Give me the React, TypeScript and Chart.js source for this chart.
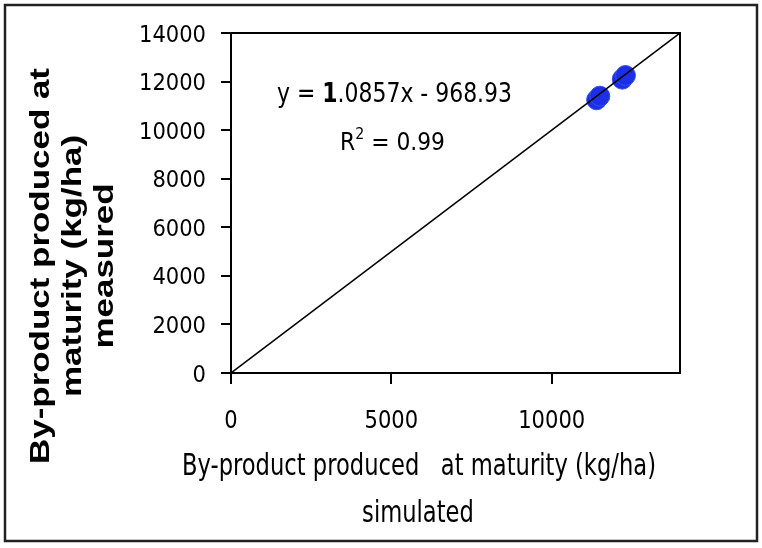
import React, { useEffect, useRef } from "react";
import { Chart, registerables } from "chart.js";

Chart.register(...registerables);

const measuredPoints = [
  { x: 11400, y: 11250 },
  { x: 11500, y: 11400 },
  { x: 12200, y: 12100 },
  { x: 12300, y: 12250 },
];
const oneToOneLine = [
  { x: 0, y: 0 },
  { x: 14000, y: 14000 },
];
const xTicks = [0, 5000, 10000];
const yTicks = [0, 2000, 4000, 6000, 8000, 10000, 12000, 14000];
const yTitleLines = ["By-product produced at", "maturity (kg/ha)", "measured"];
const xTitleLines = ["By-product produced   at maturity (kg/ha)", "simulated"];
const equationText = "y = 1.0857x - 968.93";
const r2Text = "0.99";

const TICK_FONT = "'Liberation Sans Narrow', 'DejaVu Sans Condensed', sans-serif";
const BOLD_FONT = "'Liberation Sans', Arial, sans-serif";

type Part = { t: string; bold?: boolean; mul?: number; dy?: number };

// draw text parts stretched: width fitted to targetW, cap height fitted to capH
function drawParts(
  ctx: any,
  parts: Part[],
  family: string,
  capRatio: number,
  x: number,
  y: number,
  targetW: number | null,
  capH: number,
  align: "left" | "center" | "right",
  sxOverride?: number
) {
  const base = 20;
  const fontFor = (p: Part) => `${p.bold ? "bold " : ""}${base * (p.mul || 1)}px ${family}`;
  let w = 0;
  for (const p of parts) {
    ctx.font = fontFor(p);
    w += ctx.measureText(p.t).width;
  }
  const sy = capH / (capRatio * base);
  const sx = sxOverride ?? (targetW ? targetW / w : sy);
  ctx.save();
  ctx.translate(x, y);
  ctx.scale(sx, sy);
  let cx = align === "center" ? -w / 2 : align === "right" ? -w : 0;
  ctx.textAlign = "left";
  ctx.textBaseline = "alphabetic";
  for (const p of parts) {
    ctx.font = fontFor(p);
    ctx.fillText(p.t, cx, (capRatio * base) / 2 + (p.dy || 0));
    cx += ctx.measureText(p.t).width;
  }
  ctx.restore();
  return sx;
}

const CAP = 0.73;

const decorPlugin = {
  id: "decor",
  afterDraw(chart: any) {
    const ctx = chart.ctx;
    const ca = chart.chartArea;
    ctx.save();
    // plot box
    ctx.strokeStyle = "#000";
    ctx.lineWidth = 2;
    ctx.strokeRect(ca.left, ca.top, ca.right - ca.left, ca.bottom - ca.top);
    // outer border
    ctx.strokeStyle = "#222";
    ctx.lineWidth = 2.5;
    ctx.strokeRect(5, 5, 752, 536);

    ctx.fillStyle = "#000";

    // tick labels (stretched to match the reference proportions)
    ctx.font = `20px ${TICK_FONT}`;
    const digitSx = 67 / ctx.measureText("14000").width;
    const ys = chart.scales.y;
    for (const v of yTicks) {
      drawParts(ctx, [{ t: String(v) }], TICK_FONT, CAP, 206, ys.getPixelForValue(v), null, 17, "right", digitSx);
    }
    const xsScale = chart.scales.x;
    for (const v of xTicks) {
      drawParts(ctx, [{ t: String(v) }], TICK_FONT, CAP, xsScale.getPixelForValue(v), 419, null, 18, "center", digitSx);
    }

    // equation
    drawParts(
      ctx,
      [{ t: "y = " }, { t: "1", bold: true }, { t: equationText.slice(5) }],
      TICK_FONT,
      CAP,
      277,
      92,
      235,
      20,
      "left"
    );
    // R^2
    drawParts(
      ctx,
      [{ t: "R" }, { t: "2", mul: 0.65, dy: -9 }, { t: " = " + r2Text }],
      TICK_FONT,
      CAP,
      340,
      141,
      105,
      18,
      "left"
    );

    // x title
    const sx = drawParts(ctx, [{ t: xTitleLines[0] }], TICK_FONT, CAP, 419, 464, 474, 22, "center");
    drawParts(ctx, [{ t: xTitleLines[1] }], TICK_FONT, CAP, 418, 511, null, 22, "center", sx);

    // y title (rotated)
    const xs = [39, 71, 103];
    let ysx: number | undefined = undefined;
    yTitleLines.forEach((line, i) => {
      ctx.save();
      ctx.translate(xs[i], 266);
      ctx.rotate(-Math.PI / 2);
      const r = drawParts(
        ctx,
        [{ t: line, bold: true }],
        BOLD_FONT,
        0.716,
        0,
        0,
        i === 0 ? 396 : null,
        20,
        "center",
        ysx
      );
      if (i === 0) ysx = r;
      ctx.restore();
    });
    ctx.restore();
  },
};

export default function App() {
  const ref = useRef<HTMLCanvasElement>(null);
  useEffect(() => {
    document.body.style.margin = "0";
    const chart = new Chart(ref.current!, {
      type: "scatter",
      data: {
        datasets: [
          {
            type: "line",
            data: oneToOneLine,
            borderColor: "#000",
            borderWidth: 1.5,
            pointRadius: 0,
            fill: false,
          } as any,
          {
            data: measuredPoints,
            backgroundColor: "#1c2fe6",
            borderColor: "#3550e0",
            borderWidth: 1,
            pointRadius: 10,
          },
        ],
      },
      options: {
        animation: false,
        responsive: false,
        maintainAspectRatio: false,
        layout: { padding: { left: 0, top: 33, right: 82, bottom: 0 } },
        plugins: { legend: { display: false }, tooltip: { enabled: false } },
        scales: {
          x: {
            type: "linear",
            min: 0,
            max: 14000,
            afterBuildTicks: (s: any) => {
              s.ticks = xTicks.map((v) => ({ value: v }));
            },
            afterFit: (s: any) => {
              s.height = 175;
            },
            grid: { drawOnChartArea: false, tickLength: 11, color: "#000", lineWidth: 2 },
            border: { color: "#000", width: 2 },
            ticks: { display: false },
          },
          y: {
            type: "linear",
            min: 0,
            max: 14000,
            afterBuildTicks: (s: any) => {
              s.ticks = yTicks.map((v) => ({ value: v }));
            },
            afterFit: (s: any) => {
              s.width = 231;
            },
            grid: { drawOnChartArea: false, tickLength: 10, color: "#000", lineWidth: 2 },
            border: { color: "#000", width: 2 },
            ticks: { display: false },
          },
        },
      },
      plugins: [decorPlugin],
    });
    return () => chart.destroy();
  }, []);
  return (
    <div style={{ width: 762, height: 548, background: "#fff" }}>
      <canvas ref={ref} width={762} height={548} />
    </div>
  );
}
